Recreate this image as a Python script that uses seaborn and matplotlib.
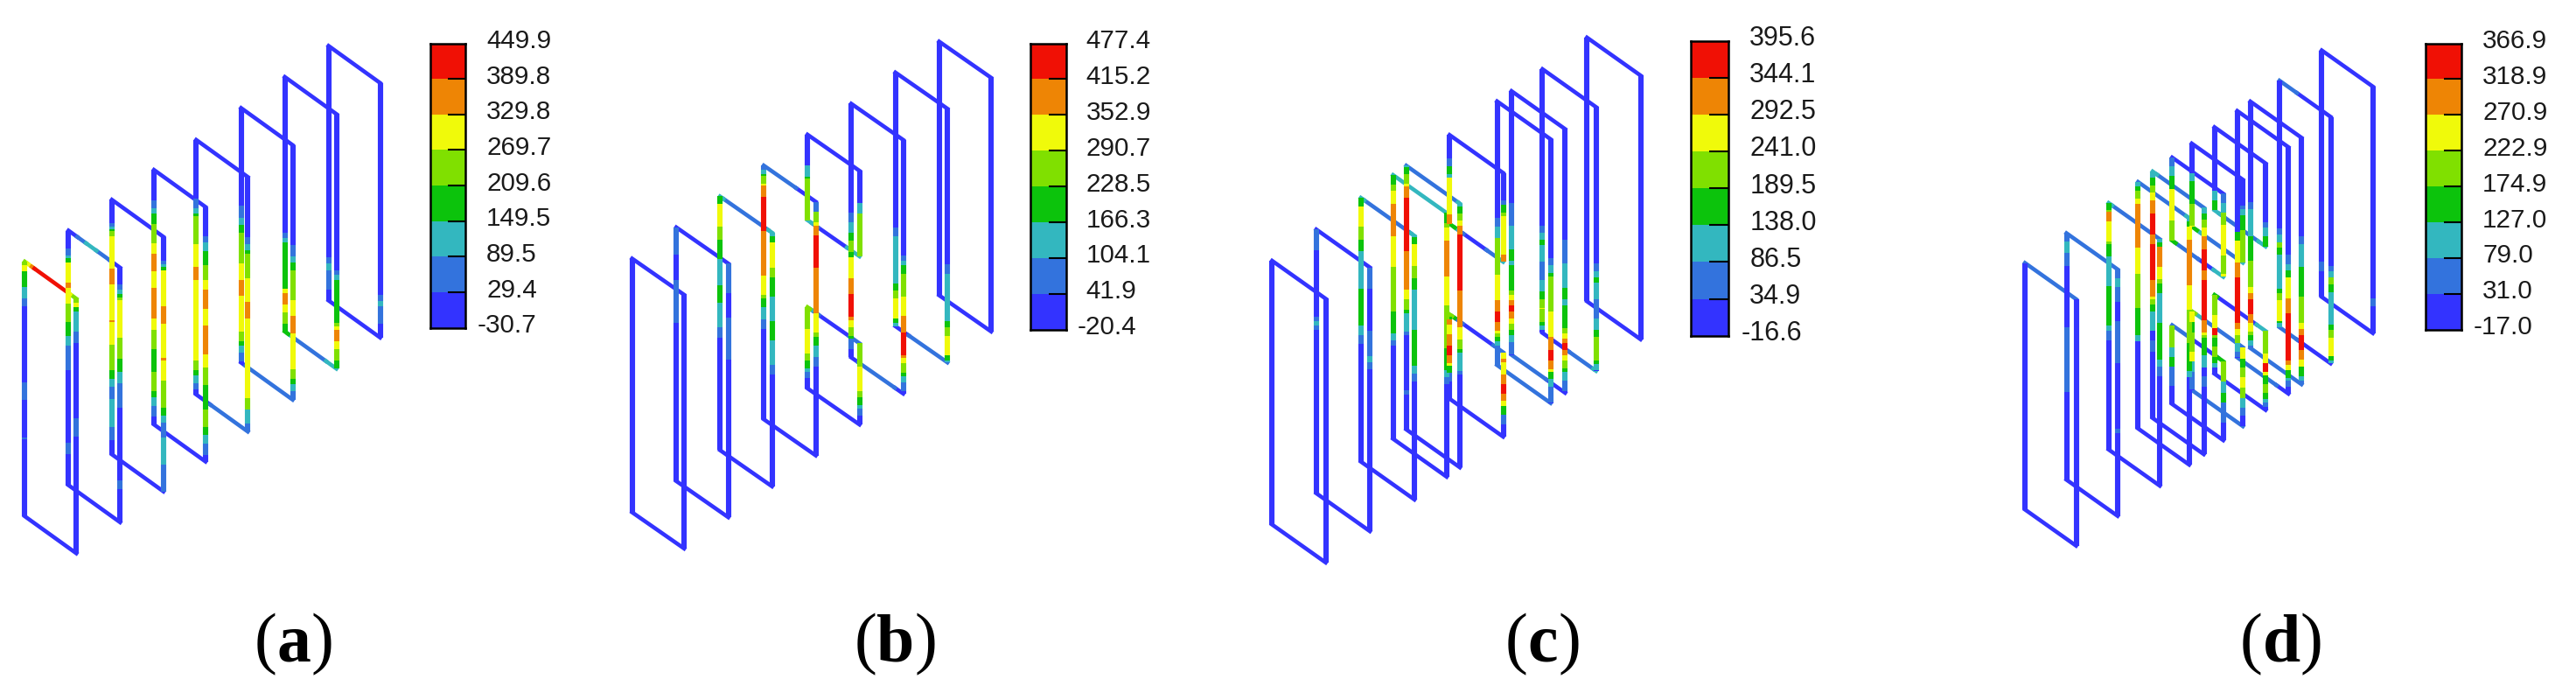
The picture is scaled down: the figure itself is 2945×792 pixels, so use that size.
import matplotlib
matplotlib.use("Agg")
import matplotlib.pyplot as plt
import numpy as np
import pandas as pd
import seaborn as sns
from matplotlib.colors import ListedColormap

sns.set_theme(style="white")
plt.rcParams["font.family"] = ["Liberation Sans", "DejaVu Sans"]

W, H = 2945, 792

level_colors = ["#3333ff", "#3373dd", "#33b7bf", "#0cc30c", "#80e000", "#f0fa0a", "#ee8505", "#f01005"]

# colour bar labels, top to bottom
labels_a = ["449.9", "389.8", "329.8", "269.7", "209.6", "149.5", "89.5", "29.4", "-30.7"]
labels_b = ["477.4", "415.2", "352.9", "290.7", "228.5", "166.3", "104.1", "41.9", "-20.4"]
labels_c = ["395.6", "344.1", "292.5", "241.0", "189.5", "138.0", "86.5", "34.9", "-16.6"]
labels_d = ["366.9", "318.9", "270.9", "222.9", "174.9", "127.0", "79.0", "31.0", "-17.0"]

# plate positions along the stack
pos_a = [0, 50, 99.6, 147.7, 196, 247.3, 297.3, 347.3]
pos_b = [0, 50.5, 100.5, 150.5, 200.5, 250.5, 301, 351]
pos_c = [0, 50.5, 101.5, 138.3, 153.4, 202.9, 257.2, 273.7, 309.1, 360]
pos_d = [0, 47.5, 95.7, 129.3, 146, 168.3, 190.7, 216.7, 242.7, 257.7, 291, 339.3]

# level bands along each edge: (stop along the edge, level), the rest is level 0
left_a = [
    [(4, 4), (11, 5), (29, 3), (42, 2), (51, 1), (138, 0), (158, 1), (201, 0), (203, 1)],
    [(20, 0), (28, 1), (31, 2), (36, 3), (59, 5), (65, 6), (83, 5), (104, 4), (120, 3), (131, 2), (159, 1), (242, 0), (255, 1)],
    [(27, 0), (31, 1), (34, 2), (36, 3), (42, 4), (79, 5), (97, 6), (138, 5), (140, 6), (166, 5), (195, 4), (205, 3), (214, 2), (228, 1), (260, 2), (275, 1)],
    [(35, 0), (44, 1), (50, 2), (62, 3), (84, 4), (96, 5), (116, 6), (135, 5), (170, 6), (183, 5), (205, 4), (231, 3), (253, 4), (260, 3), (270, 2), (282, 1)],
    [(67, 0), (78, 1), (84, 2), (87, 3), (119, 4), (145, 5), (160, 6), (252, 5), (263, 4), (269, 3), (278, 2), (285, 1)],
    [(112, 0), (126, 1), (134, 2), (143, 3), (178, 4), (197, 5), (215, 6), (256, 5), (267, 4), (272, 3), (280, 2), (290, 1)],
    [(178, 0), (184, 1), (189, 2), (242, 3), (247, 5), (260, 6), (269, 5), (282, 4), (291, 3)],
    [(242, 0), (249, 1), (257, 2), (279, 1)],
]
right_a = [
    [(5, 4), (10, 5), (15, 3), (38, 2), (51, 1), (137, 0), (158, 1)],
    [(19, 0), (25, 1), (30, 2), (34, 3), (37, 4), (80, 5), (104, 4), (119, 3), (132, 2), (160, 1), (243, 0), (253, 1)],
    [(27, 0), (31, 1), (34, 2), (38, 3), (79, 5), (99, 6), (138, 5), (141, 6), (164, 5), (195, 4), (204, 3), (212, 2), (229, 1), (260, 2), (291, 1)],
    [(33, 0), (40, 1), (50, 2), (66, 3), (83, 4), (94, 5), (116, 6), (135, 5), (168, 6), (183, 5), (203, 4), (231, 3), (251, 4), (260, 3), (270, 2), (283, 1)],
    [(69, 0), (77, 1), (84, 2), (88, 3), (116, 4), (143, 5), (162, 6), (253, 5), (266, 4), (282, 2), (291, 1)],
    [(114, 0), (127, 1), (134, 2), (143, 3), (177, 4), (195, 5), (215, 6), (256, 5), (267, 4), (273, 3), (281, 2), (291, 1)],
    [(179, 0), (184, 1), (190, 2), (239, 3), (243, 4), (247, 5), (260, 6), (269, 5), (282, 4), (291, 3)],
    [(242, 0), (249, 1), (255, 2), (275, 1)],
]
top_a = {0: [(3, 4), (8, 5), (11, 6), (49, 7), (52, 5), (59, 4)], 1: [(10, 0), (20, 1), (32, 2), (47, 1)]}
bottom_a = {4: [(16, 0), (59, 1)], 5: [(5, 0), (59, 1)], 6: [(4, 3), (10, 2), (47, 1), (59, 2)]}

left_b = [
    [],
    [(31, 1), (60, 0), (109, 1)],
    [(9, 3), (35, 5), (50, 4), (72, 3), (102, 2), (122, 3), (150, 2), (162, 1)],
    [(5, 1), (10, 2), (12, 3), (21, 4), (23, 5), (36, 6), (75, 7), (126, 6), (148, 5), (152, 4), (162, 3), (176, 2), (187, 1)],
    [(35, 0), (48, 2), (50, 3), (222, 4), (250, 5), (258, 4), (267, 3), (271, 2), (278, 1)],
    [(125, 0), (136, 1), (148, 2), (157, 3), (170, 4), (176, 3), (200, 5), (218, 6), (244, 7), (248, 6), (256, 5), (266, 4), (269, 3), (281, 1)],
    [(177, 0), (187, 1), (241, 2), (249, 3), (258, 4), (281, 5), (286, 3), (290, 2)],
    [],
]
right_b = [
    [],
    [(34, 1), (62, 0), (110, 1)],
    [(4, 2), (11, 3), (40, 5), (51, 4), (73, 3), (101, 2), (123, 3), (151, 2), (162, 1)],
    [(11, 1), (23, 4), (27, 5), (38, 6), (75, 7), (127, 6), (149, 5), (154, 4), (164, 3), (177, 2), (188, 1)],
    [(37, 0), (49, 2), (224, 4), (252, 5), (259, 4), (268, 3), (272, 2), (280, 1)],
    [(132, 0), (138, 1), (143, 2), (153, 3), (179, 4), (201, 5), (220, 6), (246, 7), (249, 6), (255, 5), (266, 4), (270, 3), (277, 2), (287, 1)],
    [(178, 0), (189, 1), (243, 2), (250, 3), (260, 4), (282, 5), (288, 3), (290, 2)],
    [],
]
top_b = {2: [(4, 2), (55, 1), (60, 2)], 3: [(37, 1), (60, 0)]}
bottom_b = {5: [(8, 0), (50, 1)], 6: [(15, 0), (60, 1)]}
split_b = {4: ([(5, 2), (12, 1), (45, 0), (60, 2)], [(3, 4), (5, 2), (13, 1), (48, 0), (60, 1)])}

left_c = [
    [],
    [(24, 1), (100, 0), (105, 1), (110, 2), (115, 1)],
    [(10, 3), (33, 5), (48, 4), (61, 3), (104, 2), (146, 3), (157, 2), (167, 1)],
    [(11, 3), (18, 4), (33, 5), (70, 6), (105, 5), (156, 4), (181, 3), (189, 2), (195, 1)],
    [(2, 2), (10, 3), (21, 4), (24, 5), (37, 6), (98, 7), (142, 6), (153, 5), (165, 4), (169, 3), (190, 2), (194, 1), (257, 0), (262, 1)],
    [(27, 0), (36, 1), (45, 3), (49, 2), (91, 5), (102, 6), (208, 4), (211, 3), (217, 6), (228, 5), (241, 6), (252, 7), (261, 6), (264, 5), (272, 3), (282, 1)],
    [(133, 0), (143, 1), (156, 2), (198, 4), (227, 5), (240, 6), (252, 7), (262, 6), (265, 5), (269, 4), (274, 3), (279, 2), (301, 1)],
    [(128, 0), (154, 1), (181, 2), (194, 3), (199, 2), (228, 3), (233, 4), (239, 5), (245, 6), (252, 7), (260, 6), (266, 5), (273, 4), (279, 3), (287, 2), (301, 1)],
    [(179, 0), (187, 1), (195, 2), (201, 3), (220, 2), (241, 1), (254, 2), (263, 3), (273, 4), (274, 5), (289, 4), (293, 3), (298, 2)],
    [],
]
right_c = [
    [],
    [(24, 1), (72, 0), (101, 1), (108, 2), (116, 1)],
    [(2, 2), (10, 3), (35, 5), (49, 4), (62, 3), (108, 2), (149, 3), (158, 2), (167, 1)],
    [(12, 3), (17, 4), (32, 5), (73, 6), (106, 5), (155, 4), (180, 3), (188, 2), (196, 1)],
    [(3, 2), (11, 3), (19, 4), (25, 5), (35, 6), (99, 7), (141, 6), (155, 5), (166, 4), (170, 3), (191, 2), (195, 1)],
    [(31, 0), (36, 1), (45, 3), (49, 4), (93, 5), (101, 6), (212, 5), (216, 6), (230, 5), (241, 6), (252, 7), (260, 6), (266, 5), (276, 3), (287, 1)],
    [(136, 0), (144, 1), (153, 2), (157, 3), (197, 4), (226, 5), (241, 6), (253, 7), (263, 6), (266, 5), (274, 3), (283, 2), (301, 1)],
    [(127, 0), (154, 1), (182, 2), (195, 3), (202, 2), (228, 3), (234, 4), (240, 5), (245, 6), (253, 7), (259, 6), (265, 5), (274, 4), (278, 3), (288, 2), (300, 1)],
    [(179, 0), (188, 1), (195, 2), (201, 3), (220, 2), (242, 1), (255, 2), (263, 3), (290, 4), (294, 3), (301, 2)],
    [],
]
top_c = {2: [(4, 2), (57, 1), (62, 2)], 3: [(62, 2)], 4: [(59, 1), (62, 2)]}
bottom_c = {6: [(62, 1)], 7: [(40, 1)], 8: [(30, 0), (58, 1), (62, 2)]}
split_c = {5: ([(6, 3), (9, 2), (16, 1), (42, 0), (55, 1), (62, 2)], [(3, 4), (6, 3), (15, 1), (50, 0), (62, 1)])}

left_d = [
    [],
    [(10, 1), (23, 2), (38, 1), (108, 0), (182, 1)],
    [(8, 3), (10, 4), (21, 6), (44, 5), (47, 4), (61, 3), (95, 2), (140, 3), (146, 2), (157, 1)],
    [(5, 2), (10, 3), (19, 4), (25, 5), (75, 6), (105, 5), (144, 4), (175, 3), (182, 2)],
    [(7, 2), (16, 3), (24, 4), (33, 5), (48, 6), (72, 7), (83, 6), (124, 7), (143, 6), (146, 5), (152, 4), (160, 3), (182, 2), (193, 0), (206, 1)],
    [(10, 1), (21, 2), (36, 3), (72, 5), (217, 4), (228, 2), (239, 3), (261, 1)],
    [(34, 0), (43, 2), (69, 3), (94, 4), (204, 5), (216, 3), (238, 4), (249, 5), (261, 2), (281, 1)],
    [(73, 0), (84, 2), (96, 3), (215, 4), (230, 5), (238, 7), (241, 4), (251, 3), (263, 4), (270, 3), (275, 2)],
    [(138, 0), (148, 3), (173, 5), (190, 6), (242, 7), (249, 6), (256, 5), (265, 4), (275, 2), (281, 1)],
    [(115, 0), (123, 1), (154, 2), (182, 3), (212, 4), (219, 5), (226, 6), (243, 7), (253, 6), (263, 5), (267, 4), (273, 3), (279, 2), (284, 1)],
    [(169, 0), (176, 1), (185, 2), (191, 4), (199, 3), (238, 2), (243, 3), (251, 4), (275, 5), (277, 3), (282, 2)],
    [(241, 0), (252, 1)],
]
right_d = [
    [],
    [(10, 1), (20, 2), (37, 1), (59, 0), (107, 1), (182, 0), (187, 1)],
    [(4, 2), (9, 3), (32, 6), (46, 5), (51, 4), (62, 3), (96, 2), (138, 3), (146, 2), (157, 1)],
    [(4, 2), (10, 3), (25, 5), (77, 6), (105, 5), (143, 4), (175, 3), (182, 2)],
    [(7, 2), (14, 3), (23, 4), (33, 5), (48, 6), (72, 7), (83, 6), (129, 7), (143, 6), (146, 5), (149, 4), (169, 3), (183, 2), (193, 0), (205, 1)],
    [(11, 1), (22, 2), (36, 4), (71, 5), (92, 4), (95, 5), (215, 4), (228, 2), (239, 3), (262, 1)],
    [(30, 0), (34, 1), (41, 2), (58, 3), (95, 4), (205, 5), (215, 3), (226, 4), (238, 5), (250, 4), (261, 2), (270, 1)],
    [(67, 0), (73, 1), (83, 2), (96, 3), (217, 4), (228, 5), (238, 7), (242, 5), (252, 3), (262, 4), (269, 3), (273, 2), (278, 1)],
    [(123, 0), (134, 1), (141, 2), (149, 3), (173, 5), (190, 6), (244, 7), (249, 6), (255, 5), (264, 3), (267, 2), (274, 1)],
    [(113, 0), (122, 1), (148, 2), (182, 3), (212, 4), (219, 5), (226, 6), (243, 7), (254, 6), (262, 5), (273, 3), (278, 2), (284, 1)],
    [(170, 0), (176, 1), (183, 2), (191, 4), (200, 3), (237, 2), (243, 3), (252, 4), (273, 5), (278, 3), (282, 2)],
    [(242, 0), (251, 1)],
]
top_d = {0: [(59, 1)], 1: [(59, 1)], 2: [(4, 2), (59, 1)], 3: [(55, 1), (59, 2)], 4: [(5, 2), (59, 1)], 10: [(20, 1)]}
bottom_d = {6: [(59, 1)], 8: [(45, 1)], 9: [(59, 1)], 10: [(20, 1)]}
split_d = {
    5: ([(4, 3), (30, 1), (47, 0), (59, 2)], [(20, 1), (52, 0), (59, 3)]),
    6: ([(6, 3), (10, 2), (52, 1), (59, 2)], [(4, 4), (14, 2), (59, 1)]),
    7: ([(6, 2), (50, 1), (59, 2)], [(3, 3), (48, 0), (59, 2)]),
}

# x0, y0, stack slope, plate width, plate skew, plate height
panels = [
    dict(name="a", geo=(28.3, 299, 0.71, 59, 42.4, 291), pos=pos_a, left=left_a, right=right_a, top=top_a,
         bottom=bottom_a, split={}, labels=labels_a, bar=(491.7, 49.5, 40.6, 325.2), lab_x=556, cap_x=335.6, fs=21.3),
    dict(name="b", geo=(722.65, 295.5, 0.7066, 59.5, 41.4, 290), pos=pos_b, left=left_b, right=right_b, top=top_b,
         bottom=bottom_b, split=split_b, labels=labels_b, bar=(1178, 49.5, 41, 327.3), lab_x=1241.8, cap_x=1024, fs=21.3),
    dict(name="c", geo=(1454.3, 298, 0.7086, 61.3, 43.4, 301.5), pos=pos_c, left=left_c, right=right_c, top=top_c,
         bottom=bottom_c, split=split_c, labels=labels_c, bar=(1933.3, 46.5, 42.4, 337.3), lab_x=2000.3, cap_x=1764, fs=22),
    dict(name="d", geo=(2315, 300.5, 0.716, 58.5, 41.4, 281.8), pos=pos_d, left=left_d, right=right_d, top=top_d,
         bottom=bottom_d, split=split_d, labels=labels_d, bar=(2773.4, 49.5, 40.6, 327.3), lab_x=2838, cap_x=2608, fs=21.3),
]
letter_half = {"a": 19.5, "b": 21.7, "c": 17.3, "d": 21.7}
UPPER, LOWER = 0.337, 0.68


def bands(runs, length, start=0.0, stop=None):
    # turns (stop, level) runs into (from, to, level) pieces, clipped to start..stop
    stop = length if stop is None else stop
    out = []
    prev = 0.0
    for end, lev in list(runs) + [(length, 0)]:
        end = min(end, length)
        a, b = max(prev, start), min(end, stop)
        if b > a:
            out.append((a, b, lev))
        prev = max(prev, end)
    return out


def plate_segments(panel):
    x0, y0, slope, w, dy, h = panel["geo"]
    rows_v, rows_d = [], []
    seg = 0
    for i, p in enumerate(panel["pos"]):
        x_l = x0 + p
        y_t = y0 - slope * p
        for side, runs in ((0, panel["left"][i]), (1, panel["right"][i])):
            ranges = [(0, h)]
            if i in panel["split"]:
                ranges = [(0, UPPER * h), (LOWER * h, h)]
            for r0, r1 in ranges:
                for a, b, lev in bands(runs, h, r0, r1):
                    seg += 1
                    for t in (a, b):
                        rows_v.append((x_l + side * w, y_t + side * dy + t, seg, lev))

        diagonals = [(0, panel["top"].get(i, [])), (h, panel["bottom"].get(i, []))]
        if i in panel["split"]:
            diagonals += [(UPPER * h, panel["split"][i][0]), (LOWER * h, panel["split"][i][1])]
        for off, runs in diagonals:
            for a, b, lev in bands(runs, w):
                seg += 1
                for t in (a, b):
                    rows_d.append((x_l + t, y_t + off + t * dy / w, seg, lev))
    cols = ["x", "y", "seg", "level"]
    return pd.DataFrame(rows_v, columns=cols), pd.DataFrame(rows_d, columns=cols)


fig = plt.figure(figsize=(W / 100, H / 100), dpi=100)
ax = fig.add_axes([0, 0, 1, 1])
palette = {i: c for i, c in enumerate(level_colors)}

for panel in panels:
    verticals, diagonals = plate_segments(panel)
    sns.lineplot(data=diagonals, x="x", y="y", hue="level", palette=palette, units="seg", estimator=None,
                 sort=False, legend=False, ax=ax, lw=3.3, solid_capstyle="projecting", zorder=2)
    sns.lineplot(data=verticals, x="x", y="y", hue="level", palette=palette, units="seg", estimator=None,
                 sort=False, legend=False, ax=ax, lw=4.4, solid_capstyle="butt", zorder=3)

    # colour bar
    bx, by, bw, bh = panel["bar"]
    cb = fig.add_axes([bx / W, 1 - (by + bh) / H, bw / W, bh / H])
    sns.heatmap(np.arange(7, -1, -1).reshape(-1, 1), ax=cb, cmap=ListedColormap(level_colors), vmin=-0.5, vmax=7.5,
                cbar=False, xticklabels=False, yticklabels=False)
    cb.hlines(range(1, 8), 0.5, 1, color="black", lw=1.5)
    for s in cb.spines.values():
        s.set_visible(True)
        s.set_color("black")
        s.set_linewidth(1.8)
    for i, lab in enumerate(panel["labels"]):
        neg = lab.startswith("-")
        ax.text(panel["lab_x"] - (10 if neg else 0), by + i * bh / 8 - 2.5, lab, ha="left", va="center",
                fontsize=panel["fs"], color="#1a1a1a")

    # caption
    cx = panel["cap_x"]
    half = letter_half[panel["name"]]
    cap = dict(va="baseline", fontsize=56, color="black", family="Liberation Serif")
    ax.text(cx, 755, panel["name"], ha="center", fontweight="bold", **cap)
    ax.text(cx - half, 755, "(", ha="right", **cap)
    ax.text(cx + half, 755, ")", ha="left", **cap)

ax.set_xlim(0, W)
ax.set_ylim(H, 0)
ax.set_axis_off()

fig.savefig("out.png", dpi=100)
